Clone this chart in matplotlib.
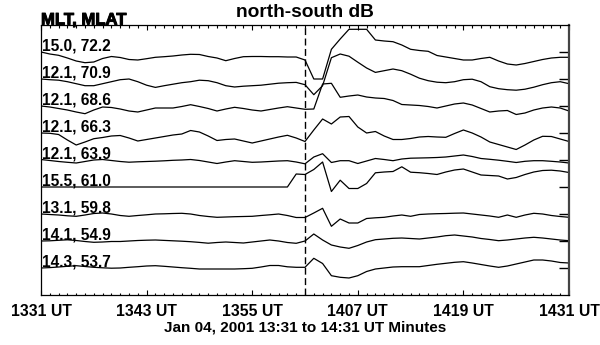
import numpy as np
import matplotlib
matplotlib.use("Agg")
import matplotlib.pyplot as plt
import matplotlib.patheffects as pe
from matplotlib.ticker import MultipleLocator

plt.rcParams['font.family'] = ['Liberation Sans', 'DejaVu Sans']

# Minutes after 13:31 UT
minutes = np.arange(61)

# Station labels (MLT, MLAT), top to bottom
stations = ["15.0, 72.2", "12.1, 70.9", "12.1, 68.6", "12.1, 66.3", "12.1, 63.9",
            "15.5, 61.0", "13.1, 59.8", "14.1, 54.9", "14.3, 53.7"]

# North-south dB deflection of each station relative to its start value
db_st1 = [0, -2, -3.3, -6, -9, -10.7, -10, -6.5, -4.5, -5.5, -7.5, -8, -6.7, -5.3, -4.7, -4,
          -3, -2.3, -2.5, -4.5, -6, -8.7, -6.5, -4.7, -4.5, -4.5, -4.7, -4.7, -5, -5, -8,
          -27, -27, 2.7, 13, 22.7, 22.7, 22.7, 12, 11, 10.3, 7, 2.7, 1.5, 0.7, -3.5, -5,
          -6.5, -8, -8, -6.5, -5.3, -9, -12, -13, -11.5, -9.5, -7.5, -6, -5.3, -5.3]
db_st2 = [0, -0.7, -1.2, -2.7, -4.7, -6.7, -6.7, -4.7, -2.7, -0.7, 0, -2.7, -6.2, -8.4, -6.7,
          -5.2, -3.7, -2.7, -1.2, -1.7, -3.7, -6.7, -8, -7.2, -6.7, -6.2, -5.2, -4.2, -3.7,
          -3.4, -5.7, -15.7, -6.7, 21.3, 25, 22.8, 16.8, 11, 6.6, 8.3, 10, 8.3, 4.8, 0.8,
          -1.7, -3.2, -3.7, -2.7, -0.7, -0.2, -2.7, -7.7, -9.7, -10.7, -11.2, -10.2, -8.2,
          -5.7, -3.7, -2.7, -4.7]
db_st3 = [0, -1, -2.5, -4, -6, -7.7, -4, -1, -1.5, -3, -5, -6, -4, -2, -2, -2, -0.5, 1.3,
          -0.5, -2.5, -5, -3, -1.3, -2.5, -4, -5, -3.5, -2, -0.7, -2, -3.3, -3, 22, 22.7,
          8.7, 10, 11, 9, 8, 7.5, 5.5, 1.5, 1, 0.5, -0.5, -2, 0, 2, 3, 1, -2.5, -6, -5,
          -4.5, -8.5, -7, -4, -2, -1, -2, -5]
db_st4 = [0, -0.3, -1.5, -7, -12, -9, -5.7, -4.5, -3, -2.5, -5, -8, -6.5, -5, -3.5, -2, -1,
          2.5, 1, -3, -7.5, -6.5, -6, -8, -10, -8, -6, -4, -2.3, -5, -8.5, 3, 14, 9, 16,
          16.5, 6, 0, 1.5, -3, -6.5, -6.5, -5.5, -4, -3.5, -4, -4.3, -0.5, 3, 0, -4, -9,
          -11.5, -14, -16.5, -12, -7, -3.3, -3.5, -6, -8.5]
db_st5 = [0.5, -0.5, -1.5, -2.3, -3, -1.5, 0, 0.5, -0.5, -1.5, -2.2, -1.8, -1.5, -1.2, -0.8,
          -0.3, 0, 0.5, -0.5, -2, -3.5, -2, -0.7, -1.5, -2.3, -2, -1.5, -1, -0.7, -2, -3.8,
          3, 6.3, -2.5, -0.7, -0.7, -3.5, -1, 1.5, 0.5, -0.7, 1, 1.8, 2, 2.2, 2.5, 3, 4, 5,
          3.5, 1.5, 0.7, -0.2, -1.3, -2.5, -1.3, -0.7, -0.7, -1.3, -2, -3]
db_st6 = [0] * 29 + [13, 12.5, 17.5, 25, -4.5, 6.8, -1.5, -1.5, 3.5, 14.2, 15, 15.5, 20.2,
                     14.8, 14.3, 13.5, 12.5, 15, 17, 18, 15, 12, 11.5, 11, 8, 9.5, 12.5, 15,
                     16.5, 16.8, 16, 14.5]
db_st7 = [0, -0.5, -1, -1.8, -2.3, -1, 0.5, 1, 0, -1.5, -2.3, -1.5, -0.8, 0, 0.2, 0.5, 0.7,
          0, -1.5, -2.5, -3.3, -3, -2.7, -2.5, -2.3, -1.5, -0.8, 0, -1.5, -3.5, -3.5, 1,
          5.7, -12.3, -5, -9, -9, -4.5, -3.8, -3.3, -2, -1, -2.3, -0.5, 0, 0.3, 0.5, 0.8, 1,
          0, -1, -2, -3.3, -1, -3.3, -1, 0.7, 0, -1.5, -2.5, -3.3]
db_st8 = [0, 0.2, 0.7, 1.2, 0.5, -0.5, -1.3, -1, -0.5, -0.5, 0, 0.5, 0.8, 1, 0.6, 0.2, -0.2,
          -0.7, -1.4, -2.2, -1.5, -1, -1.5, -2, -1, 0, 1, 0, -1.5, -2.3, 0, 7, 1, -4, -6,
          -7.3, -4.5, -1, 1.3, 2, 2.7, 3, 2.5, 2, 3, 4, 5.3, 6, 5, 4, 2.5, 1.5, 0.3, 1, 2, 3,
          3.7, 3, 2, 1, 0.3]
db_st9 = [0, 0.4, 1, 1.7, 2.3, 1.5, 0.7, 0.2, -0.2, 0, 0.7, 1.3, 2, 2.3, 1.7, 1, 0.3, -0.3,
          -1, -1, -1, -1, -1, -0.7, -0.3, 1, 2.5, 2.5, 1.2, 0.7, 0.7, 9.7, 4.5, -7.7, -9.3,
          -10, -7.7, -3.5, -1, 0, 1, 1.3, 1.3, 1.3, 2.5, 3.7, 4.7, 5.7, 6.3, 5, 3.5, 2, 0.7,
          2, 4, 6, 8, 8, 7, 5.5, 5]

series = [db_st1, db_st2, db_st3, db_st4, db_st5, db_st6, db_st7, db_st8, db_st9]

tick_minutes = [0, 12, 24, 36, 48, 60]
tick_labels = ["1331 UT", "1343 UT", "1355 UT", "1407 UT", "1419 UT", "1431 UT"]
onset_minute = 30

spacing = 27.0
n = len(stations)

fig = plt.figure(figsize=(6.0, 3.45), dpi=100)
ax = fig.add_axes([41 / 600, 50 / 345, 528 / 600, 270 / 345])

baselines = []
for i, (label, values) in enumerate(zip(stations, series)):
    base = (n - i) * spacing
    baselines.append(base)
    ax.plot(minutes, base + np.asarray(values), color='black', lw=0.9)
    ax.text(0.1, base + 1.2, label, fontsize=11.2, fontweight='bold',
            ha='left', va='baseline', color='black')

ax.axvline(onset_minute, color='black', lw=1.0, ls=(0, (5, 2.5)))

ax.set_xlim(0, 60)
ax.set_ylim(0, (n + 1) * spacing)

ax.set_xticks(tick_minutes)
ax.set_xticklabels(tick_labels, fontsize=11.3, fontweight='bold')
ax.xaxis.set_minor_locator(MultipleLocator(1))
ax.tick_params(axis='x', which='major', direction='in', top=True, length=3.5,
               width=0.8, pad=6.5)
ax.tick_params(axis='x', which='minor', direction='in', top=True, length=1.8,
               width=0.8)

ax.set_yticks(baselines)
ax.tick_params(axis='y', which='major', direction='in', left=False, right=True,
               labelleft=False, labelright=False, length=7, width=1.0)

for side in ['left', 'top', 'bottom']:
    ax.spines[side].set_linewidth(0.9)
    ax.spines[side].set_color('black')
ax.spines['right'].set_linewidth(1.6)
ax.spines['right'].set_color('#444444')

ax.set_title("north-south dB", fontsize=13.8, fontweight='bold', pad=6)
ax.set_xlabel("Jan 04, 2001 13:31 to 14:31 UT Minutes", fontsize=11,
              fontweight='bold', labelpad=1)

fig.text(41 / 600, 1 - 24.5 / 345, "MLT, MLAT", fontsize=12, fontweight='bold',
         ha='left', va='baseline',
         path_effects=[pe.withStroke(linewidth=0.7, foreground='black')])

fig.savefig("out.png", dpi=100)
